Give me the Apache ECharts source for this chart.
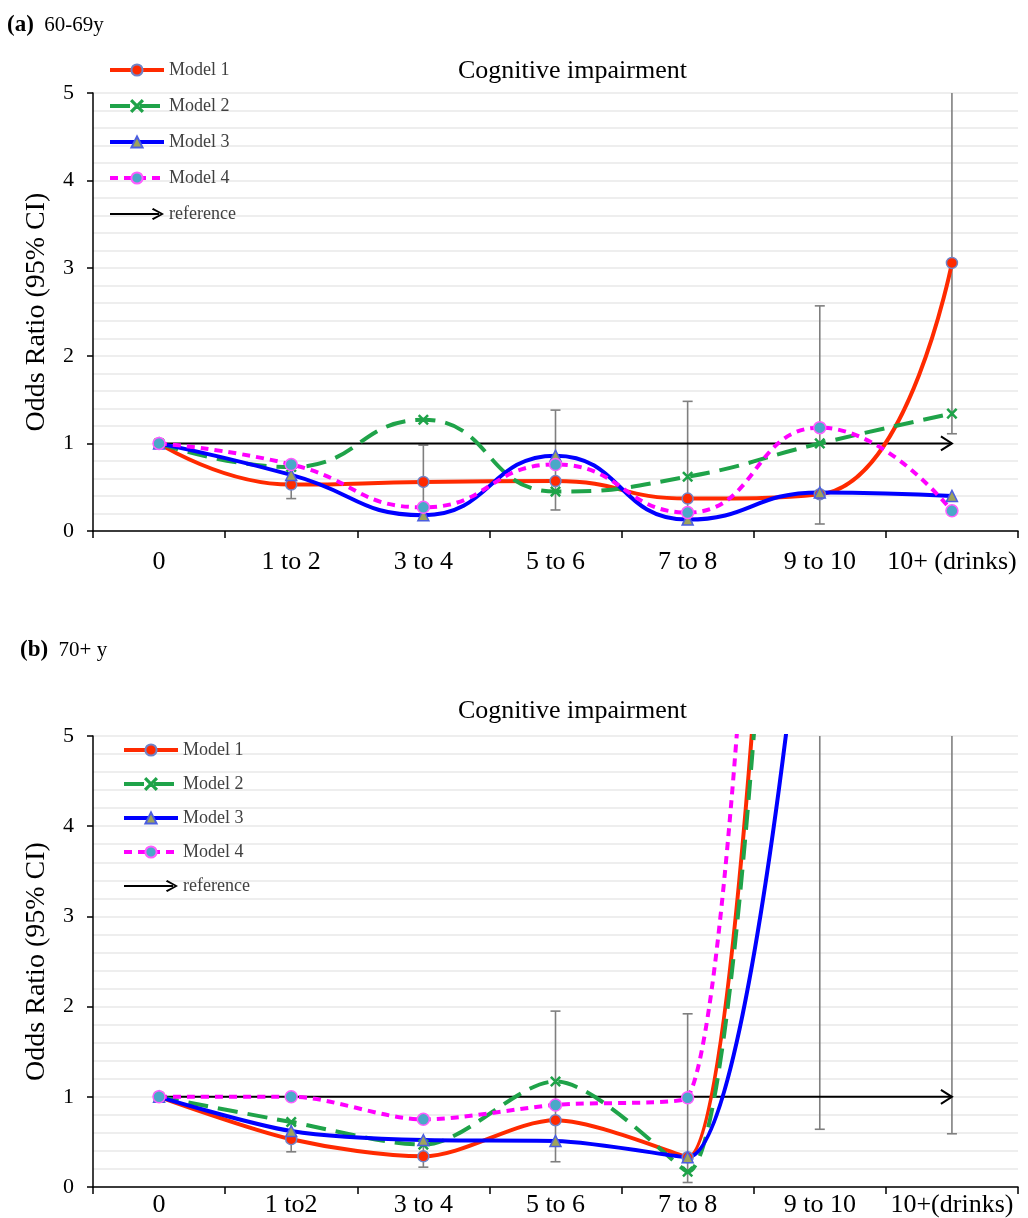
<!DOCTYPE html>
<html>
<head>
<meta charset="utf-8">
<script src="https://cdn.jsdelivr.net/npm/echarts@6/dist/echarts.min.js"></script>
<style>
  html, body { margin: 0; padding: 0; background: #fff; }
  #main { width: 1028px; height: 1218px; }
</style>
</head>
<body>
<div id="main"></div>
<script>
// categories
var catsA = ['0', '1 to 2', '3 to 4', '5 to 6', '7 to 8', '9 to 10', '10+ (drinks)'];
var catsB = ['0', '1 to2', '3 to 4', '5 to 6', '7 to 8', '9 to 10', '10+(drinks)'];
var yTicks = [0, 1, 2, 3, 4, 5];

// (a) 60-69y
var a_model1 = [1.0, 0.53, 0.56, 0.57, 0.37, 0.42, 3.06];
var a_model2 = [1.0, 0.73, 1.27, 0.45, 0.62, 1.0, 1.34];
var a_model3 = [1.0, 0.64, 0.18, 0.86, 0.13, 0.44, 0.40];
var a_model4 = [1.0, 0.76, 0.27, 0.76, 0.21, 1.18, 0.23];
var a_ciLow  = [null, 0.37, 0.31, 0.24, 0.09, 0.08, 1.11];
var a_ciHigh = [null, 0.76, 0.98, 1.38, 1.48, 2.57, 8.4];

// (b) 70+ y  (9 to 10 runs off the top of the chart, 10+ not visible)
var b_model1 = [1.0, 0.53, 0.34, 0.74, 0.33, 20, null];
var b_model2 = [1.0, 0.72, 0.47, 1.17, 0.17, 19, null];
var b_model3 = [1.0, 0.62, 0.52, 0.51, 0.33, 8.5, null];
var b_model4 = [1.0, 1.0, 0.75, 0.91, 0.99, 26, null];
var b_ciLow  = [null, 0.39, 0.22, 0.28, 0.05, 0.64, 0.59];
var b_ciHigh = [null, 0.73, 0.53, 1.95, 1.92, 20, 20];

var refValue = 1;

var serif = '"Liberation Serif", "Times New Roman", serif';
var xMark = 'path://M0.8,0 L5,4.2 L9.2,0 L10,0.8 L5.8,5 L10,9.2 L9.2,10 L5,5.8 L0.8,10 L0,9.2 L4.2,5 L0,0.8 Z';
var arrowIcon = 'path://M0,5.1 L50,5.1 L50,6.9 L0,6.9 Z M44,0 L55,6 L44,12 L42.6,10.7 L51.6,6 L42.6,1.3 Z';

var styles = {
    'Model 1': {color: '#ff2a00', type: 'solid', symbol: 'circle', size: 11, fill: '#ff2a00', border: '#6f84c8'},
    'Model 2': {color: '#1fa349', type: [20, 10], symbol: xMark, size: 9, fill: '#1fa349', border: '#1fa349'},
    'Model 3': {color: '#0000ff', type: 'solid', symbol: 'triangle', size: 11, fill: '#9ea35c', border: '#4b5ee0'},
    'Model 4': {color: '#ff00ff', type: [8, 6], symbol: 'circle', size: 12, fill: '#4aa8c8', border: '#ff5cff'}
};

function lineSeries(name, data, gi, smooth) {
    var s = styles[name];
    return {
        name: name,
        type: 'line',
        xAxisIndex: gi,
        yAxisIndex: gi,
        data: data,
        smooth: smooth,
        clip: true,
        z: 3,
        symbol: s.symbol,
        symbolSize: s.size,
        lineStyle: {color: s.color, width: 4, type: s.type},
        itemStyle: {color: s.fill, borderColor: s.border, borderWidth: 1.5}
    };
}

function ciData(lo, hi) {
    var res = [];
    for (var i = 0; i < lo.length; i++) {
        if (lo[i] != null) res.push([i, lo[i], hi[i]]);
    }
    return res;
}

function ciItem(params, api) {
    var x = api.value(0);
    var p1 = api.coord([x, api.value(1)]);
    var p2 = api.coord([x, api.value(2)]);
    var w = 5;
    var st = {stroke: '#7f7f7f', lineWidth: 1.6};
    return {
        type: 'group',
        children: [
            {type: 'line', shape: {x1: p1[0], y1: p1[1], x2: p2[0], y2: p2[1]}, style: st},
            {type: 'line', shape: {x1: p1[0] - w, y1: p1[1], x2: p1[0] + w, y2: p1[1]}, style: st},
            {type: 'line', shape: {x1: p2[0] - w, y1: p2[1], x2: p2[0] + w, y2: p2[1]}, style: st}
        ]
    };
}

function refItem(params, api) {
    var a = api.coord([api.value(0), api.value(2)]);
    var b = api.coord([api.value(1), api.value(2)]);
    var st = {stroke: '#000', lineWidth: 2, fill: null};
    return {
        type: 'group',
        children: [
            {type: 'line', shape: {x1: a[0], y1: a[1], x2: b[0], y2: b[1]}, style: st},
            {type: 'polyline', shape: {points: [[b[0] - 11, b[1] - 7], [b[0], b[1]], [b[0] - 11, b[1] + 7]]}, style: st}
        ]
    };
}

function panelSeries(gi, smooth, m1, m2, m3, m4, lo, hi) {
    return [
        {name: 'CI', type: 'custom', xAxisIndex: gi, yAxisIndex: gi, clip: true, z: 1,
         renderItem: ciItem, encode: {x: 0, y: [1, 2]}, data: ciData(lo, hi)},
        {name: 'reference', type: 'custom', xAxisIndex: gi, yAxisIndex: gi, z: 2,
         itemStyle: {color: '#000'},
         renderItem: refItem, encode: {x: [0, 1], y: 2}, data: [[0, 6, refValue]]},
        lineSeries('Model 1', m1, gi, smooth),
        lineSeries('Model 2', m2, gi, smooth),
        lineSeries('Model 3', m3, gi, smooth),
        lineSeries('Model 4', m4, gi, smooth)
    ];
}

function xAxis(gi, cats, margin) {
    return {
        type: 'category', gridIndex: gi, data: cats, boundaryGap: true,
        axisLine: {lineStyle: {color: '#000', width: 1.5}},
        axisTick: {show: true, length: 7, lineStyle: {color: '#000', width: 1.5}},
        axisLabel: {color: '#000', fontFamily: serif, fontSize: 26, margin: margin, interval: 0},
        splitLine: {show: false}
    };
}

function yAxis(gi) {
    return {
        type: 'value', gridIndex: gi, min: yTicks[0], max: yTicks[yTicks.length - 1], interval: 1,
        name: 'Odds Ratio (95% CI)', nameLocation: 'middle', nameGap: 42,
        nameTextStyle: {fontFamily: serif, fontSize: 28, color: '#000'},
        axisLine: {show: true, lineStyle: {color: '#000', width: 1.5}},
        axisTick: {show: true, length: 6, lineStyle: {color: '#000', width: 1.5}},
        axisLabel: {color: '#000', fontFamily: serif, fontSize: 22, margin: 19},
        splitLine: {show: true, lineStyle: {color: '#e9e9e9', width: 1.5}},
        minorTick: {show: false, splitNumber: 5},
        minorSplitLine: {show: true, lineStyle: {color: '#e9e9e9', width: 1.5}}
    };
}

function legend(left, top, gap) {
    return {
        orient: 'vertical', left: left, top: top, itemWidth: 54, itemHeight: 14, itemGap: gap,
        lineStyle: {width: 'inherit'},
        textStyle: {fontFamily: serif, fontSize: 18, color: '#404040'},
        data: ['Model 1', 'Model 2', 'Model 3', 'Model 4', {name: 'reference', icon: arrowIcon}]
    };
}

function headTitle(label, rest, left, top) {
    return {
        text: '{b|' + label + '}  ' + rest, left: left, top: top,
        textStyle: {fontFamily: serif, fontSize: 21, fontWeight: 'normal', color: '#000',
                    rich: {b: {fontFamily: serif, fontSize: 23, fontWeight: 'bold', color: '#000'}}}
    };
}

function chartTitle(top) {
    return {
        text: 'Cognitive impairment', left: 453, top: top,
        textStyle: {fontFamily: serif, fontSize: 26, fontWeight: 'normal', color: '#000'}
    };
}

var chart = echarts.init(document.getElementById('main'));
var option = {
    animation: false,
    backgroundColor: '#fff',
    title: [
        headTitle('(a)', '60-69y', 2, 9),
        chartTitle(53),
        headTitle('(b)', '70+ y', 15, 634),
        chartTitle(693)
    ],
    legend: [legend(103, 56, 18), legend(117, 736, 16)],
    grid: [
        {left: 93, right: 10, top: 93, height: 438, outerBoundsMode: 'none'},
        {left: 93, right: 10, top: 736, height: 451, outerBoundsMode: 'none'}
    ],
    xAxis: [xAxis(0, catsA, 18), xAxis(1, catsB, 5)],
    yAxis: [yAxis(0), yAxis(1)],
    series: panelSeries(0, 0.5, a_model1, a_model2, a_model3, a_model4, a_ciLow, a_ciHigh)
        .concat(panelSeries(1, 0.3, b_model1, b_model2, b_model3, b_model4, b_ciLow, b_ciHigh))
};
chart.setOption(option);
window.addEventListener('resize', function () { chart.resize(); });
</script>
</body>
</html>
